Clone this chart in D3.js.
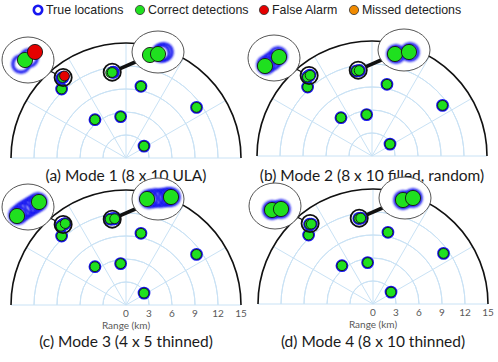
<!DOCTYPE html>
<html><head><meta charset="utf-8">
<script src="https://cdn.jsdelivr.net/npm/d3@7"></script>
<style>html,body{margin:0;padding:0;background:#fff;}svg{display:block;}</style>
</head><body>
<script>
// ---------------- data ----------------
const legendLabels = ["True locations", "Correct detections", "False Alarm", "Missed detections"];
const legendKinds = ["true", "correct", "false", "missed"];
const captions = ["(a) Mode 1 (8 x 10 ULA)", "(b) Mode 2 (8 x 10 filled, random)", "(c) Mode 3 (4 x 5 thinned)", "(d) Mode 4 (8 x 10 thinned)"];
const rangeTicks = [0, 3, 6, 9, 12, 15];
const ringTicks = [3, 6, 9, 12];
const angleTicks = [30, 60, 90, 120, 150];
const axisTitle = "Range (km)";
const showAxisLabels = [false, false, true, true];
// isolated targets (km): cross-range x, down-range y
const targetX = [1.95, 9.2, -0.7, -4.05, 2.35, -8.4];
const targetY = [9.35, 6.6, 5.4, 5.0, 1.55, 9.0];
// closely spaced clusters (km)
const clusterX = [-8.2, -1.8];
const clusterY = [10.5, 11.2];
// offsets inside each cluster (metres, [east, north]) per mode
const clusterATrue = [
  [[-175, -100], [25, 50]],
  [[-200, -175], [-50, -75], [100, 50]],
  [[-250, -200], [-125, -100], [0, -25], [125, 50], [250, 125]],
  [[-75, -100], [150, -75]]
];
const clusterACorrect = [
  [[-75, 0]],
  [[-225, -200], [125, 25]],
  [[-275, -225], [275, 125]],
  [[-75, -100], [150, -75]]
];
const clusterAFalse = [[[175, 200]], [], [], []];
const clusterBTrue = [
  [[75, -25], [150, 0]],
  [[-200, -100], [150, -50]],
  [[-225, 0], [-75, 25], [75, 25], [225, 50], [325, 50]],
  [[-50, -50], [200, 0]]
];
const clusterBCorrect = [
  [[-200, -75], [0, -50]],
  [[-225, -100], [125, -50]],
  [[-275, 0], [325, 50]],
  [[-50, -50], [200, 0]]
];
const clusterBFalse = [[], [], [], []];

// ---------------- layout ----------------
const W = 498, H = 362;
const R = 115;
const centers = [[126, 158], [372, 156], [126, 305], [373, 304]];
const captionY = [176, 176, 342, 342];
const colors = {true: "#1818f0", correct: "#1fe01f", false: "#e50000", missed: "#f08a00"};

const svg = d3.select("body").append("svg").attr("width", W).attr("height", H);
const defs = svg.append("defs");
[["blur", 0.6], ["blurBig", 1.1]].forEach(([id, s]) => {
  defs.append("filter").attr("id", id).attr("x", "-50%").attr("y", "-50%").attr("width", "200%").attr("height", "200%")
    .append("feGaussianBlur").attr("stdDeviation", s);
});

// legend
const legendX = [38, 140, 264, 354];
const lg = svg.append("g").attr("transform", "translate(0,10)");
legendKinds.forEach((k, i) => {
  const g = lg.append("g").attr("transform", `translate(${legendX[i]},0)`);
  if (k === "true") {
    g.append("circle").attr("r", 4.2).attr("fill", "#fff").attr("stroke", colors.true).attr("stroke-width", 2.6);
  } else {
    g.append("circle").attr("r", 4.6).attr("fill", colors[k]).attr("stroke", "#333").attr("stroke-width", 0.8);
  }
  g.append("text").attr("x", 8).attr("y", 0).attr("dy", "0.36em")
    .attr("font-family", "Liberation Sans, Arial, sans-serif").attr("font-size", 12.4).attr("fill", "#222")
    .text(legendLabels[i]);
});

const arc = d3.arc();
const insetScale = d3.scaleLinear().domain([-1000, 1000]).range([-40, 40]); // metres -> px in magnified view

function drawPanel(p) {
  const [cx, cy] = centers[p];
  const g = svg.append("g");
  const xs = d3.scaleLinear().domain([-15, 15]).range([cx - R, cx + R]);
  const ys = d3.scaleLinear().domain([0, 15]).range([cy, cy - R]);
  const rs = d3.scaleLinear().domain([0, 15]).range([0, R]);

  // grid
  const grid = g.append("g").attr("fill", "none").attr("stroke", "#c9e2f5").attr("stroke-width", 1);
  ringTicks.forEach(r => {
    grid.append("path").attr("transform", `translate(${cx},${cy})`)
      .attr("d", arc({innerRadius: rs(r), outerRadius: rs(r), startAngle: -Math.PI / 2, endAngle: Math.PI / 2}));
  });
  angleTicks.forEach(a => {
    const t = a * Math.PI / 180;
    grid.append("line").attr("x1", cx).attr("y1", cy)
      .attr("x2", cx + rs(15) * Math.cos(t)).attr("y2", cy - rs(15) * Math.sin(t));
  });
  grid.append("line").attr("x1", xs(-15)).attr("x2", xs(15)).attr("y1", cy).attr("y2", cy);
  // outer boundary
  g.append("path").attr("transform", `translate(${cx},${cy})`).attr("fill", "none").attr("stroke", "#111").attr("stroke-width", 1.6)
    .attr("d", arc({innerRadius: R, outerRadius: R, startAngle: -Math.PI / 2, endAngle: Math.PI / 2}));

  // axis labels
  if (showAxisLabels[p]) {
    rangeTicks.forEach(t => {
      g.append("text").attr("x", xs(t)).attr("y", cy + 8.5).attr("dy", "0.35em").attr("text-anchor", "middle")
        .attr("font-family", "Lato, sans-serif").attr("font-size", 10).attr("fill", "#595959").text(t);
    });
    g.append("text").attr("x", cx).attr("y", cy + 20.5).attr("dy", "0.35em").attr("text-anchor", "middle")
      .attr("font-family", "Lato, sans-serif").attr("font-size", 10).attr("fill", "#595959").text(axisTitle);
  }

  // marker helpers
  function marks(parent, pts, kind, r, big) {
    pts.forEach(([x, y]) => {
      if (kind === "true") {
        parent.append("circle").attr("cx", x).attr("cy", y).attr("r", r + (big ? 0.6 : 0.4)).attr("fill", "none")
          .attr("stroke", colors.true).attr("stroke-width", big ? 3.2 : 2.2).attr("filter", big ? "url(#blurBig)" : "url(#blur)");
      } else {
        parent.append("circle").attr("cx", x).attr("cy", y).attr("r", r).attr("fill", colors[kind]).attr("stroke", "#151515").attr("stroke-width", 0.9);
      }
    });
  }
  const mk = g.append("g");
  const isoPts = targetX.map((x, i) => [xs(x), ys(targetY[i])]);
  marks(mk, isoPts, "true", 4.9);
  marks(mk, isoPts, "correct", 4.9);

  const clusterSets = [
    {t: clusterATrue[p], c: clusterACorrect[p], f: clusterAFalse[p], i: 0},
    {t: clusterBTrue[p], c: clusterBCorrect[p], f: clusterBFalse[p], i: 1}
  ];
  const insetOff = [[-98, -98], [32, -106]];
  const insetR = [[26, 23], [26, 21]];
  const linkW = [1.2, 3.6];
  clusterSets.forEach(cs => {
    const kx = clusterX[cs.i], ky = clusterY[cs.i];
    const toMain = o => [xs(kx + o[0] / 1000), ys(ky + o[1] / 1000)];
    marks(mk, cs.t.map(toMain), "true", 4.9);
    marks(mk, cs.c.map(toMain), "correct", 4.9);
    marks(mk, cs.f.map(toMain), "false", 4.9);
  });
  clusterSets.forEach(cs => {
    const sx = xs(clusterX[cs.i]), sy = ys(clusterY[cs.i]);
    const ex = cx + insetOff[cs.i][0], ey = cy + insetOff[cs.i][1];
    const [rx, ry] = insetR[cs.i];
    const sr = 8.6;
    // connector
    const dx = sx - ex, dy = sy - ey, d = Math.hypot(dx, dy);
    const ux = dx / d, uy = dy / d;
    const te = 1 / Math.sqrt((ux * ux) / (rx * rx) + (uy * uy) / (ry * ry));
    g.append("line").attr("x1", ex + ux * (te - 2)).attr("y1", ey + uy * (te - 2))
      .attr("x2", sx - ux * sr).attr("y2", sy - uy * sr)
      .attr("stroke", "#111").attr("stroke-width", linkW[cs.i]);
    // small highlight circle
    g.append("circle").attr("cx", sx).attr("cy", sy).attr("r", sr).attr("fill", "none").attr("stroke", "#111").attr("stroke-width", 1.8);
    // magnified view
    g.append("ellipse").attr("cx", ex).attr("cy", ey).attr("rx", rx).attr("ry", ry)
      .attr("fill", "#fff").attr("stroke", "#555").attr("stroke-width", 1);
    const toInset = o => [ex + insetScale(o[0]), ey - insetScale(o[1])];
    const ig = g.append("g");
    marks(ig, cs.t.map(toInset), "true", 7.6, true);
    marks(ig, cs.c.map(toInset), "correct", 7.6);
    marks(ig, cs.f.map(toInset), "false", 7.6);
  });

  // caption
  g.append("text").attr("x", cx).attr("y", captionY[p]).attr("dy", "0.35em").attr("text-anchor", "middle")
    .attr("font-family", "Lato, sans-serif").attr("font-size", 15.5).attr("fill", "#1a1a1a").text(captions[p]);
}
[0, 1, 2, 3].forEach(drawPanel);
</script>
</body></html>
